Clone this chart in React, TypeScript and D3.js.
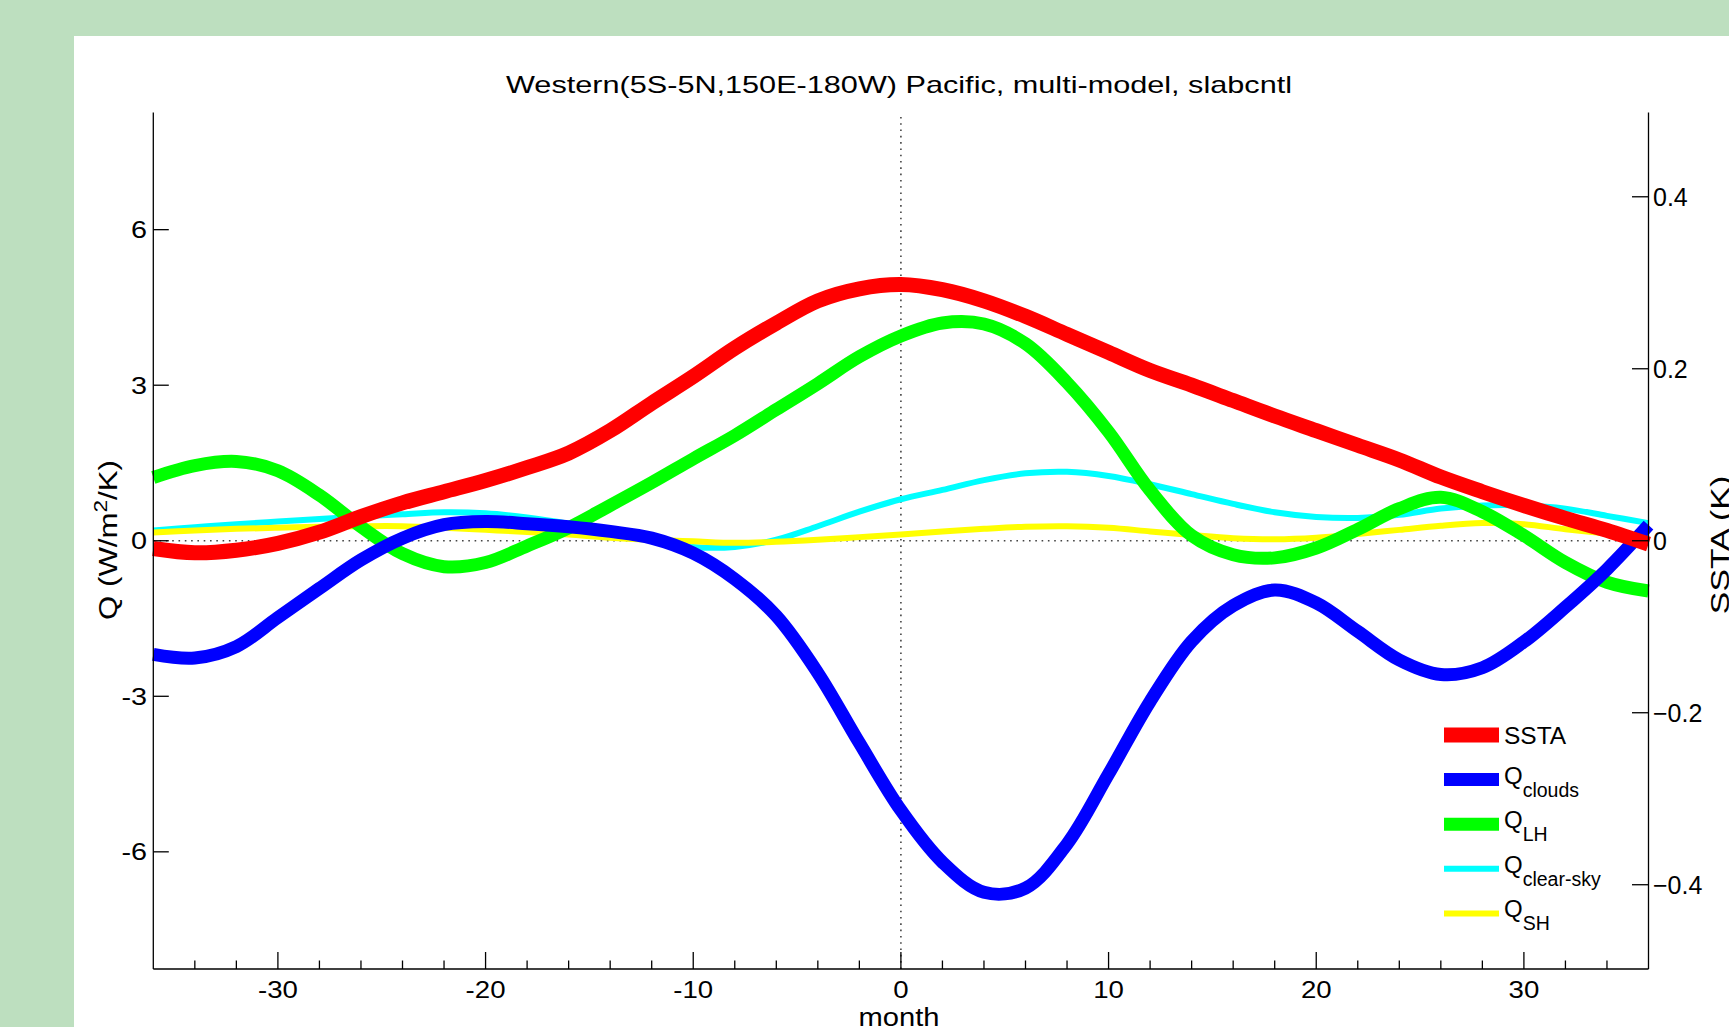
import React from 'react';
import * as d3 from 'd3';

// lag in months
const months = [-36, -34, -32, -30, -28, -26, -24, -22, -20, -18, -16, -14, -12, -10, -8, -6, -4, -2, 0,
  2, 4, 6, 8, 10, 12, 14, 16, 18, 20, 22, 24, 26, 28, 30, 32, 34, 36];

// SSTA (K), right axis
const ssta = [-0.009, -0.014, -0.011, -0.003, 0.010, 0.028, 0.044, 0.057, 0.070, 0.085, 0.102, 0.128, 0.160, 0.191,
  0.224, 0.253, 0.279, 0.293, 0.298, 0.292, 0.279, 0.261, 0.240, 0.219, 0.198, 0.181, 0.163, 0.145, 0.128,
  0.111, 0.094, 0.074, 0.057, 0.041, 0.026, 0.012, -0.004];

// Q terms (W/m^2/K), left axis
const qClouds = [-2.19, -2.26, -2.04, -1.48, -0.92, -0.37, 0.05, 0.31, 0.37, 0.33, 0.27, 0.18, 0.05, -0.24,
  -0.74, -1.45, -2.55, -3.90, -5.20, -6.20, -6.78, -6.70, -5.85, -4.50, -3.10, -1.94, -1.25, -0.95, -1.20,
  -1.75, -2.30, -2.58, -2.45, -1.95, -1.28, -0.55, 0.30];
const qLH = [1.22, 1.45, 1.53, 1.35, 0.88, 0.27, -0.25, -0.50, -0.42, -0.10, 0.25, 0.68, 1.12, 1.58, 2.03,
  2.53, 3.03, 3.55, 3.95, 4.20, 4.18, 3.80, 3.05, 2.10, 0.97, 0.10, -0.27, -0.33, -0.14, 0.22, 0.62, 0.84,
  0.56, 0.10, -0.42, -0.80, -0.97];
const qClearSky = [0.20, 0.26, 0.32, 0.37, 0.42, 0.47, 0.51, 0.55, 0.53, 0.45, 0.33, 0.18, 0.02, -0.12, -0.12,
  0.02, 0.28, 0.56, 0.80, 0.98, 1.17, 1.30, 1.33, 1.25, 1.09, 0.90, 0.71, 0.55, 0.46, 0.44, 0.50, 0.62, 0.68,
  0.68, 0.62, 0.48, 0.34];
const qSH = [0.16, 0.20, 0.23, 0.25, 0.27, 0.28, 0.28, 0.25, 0.21, 0.17, 0.12, 0.06, 0.02, -0.01, -0.04, -0.02,
  0.02, 0.07, 0.12, 0.18, 0.23, 0.27, 0.28, 0.25, 0.18, 0.11, 0.05, 0.03, 0.06, 0.13, 0.21, 0.29, 0.34, 0.32,
  0.22, 0.14, 0.08];

const monthTicks = [-30, -20, -10, 0, 10, 20, 30];
const qTicks = [-6, -3, 0, 3, 6];
const sstaTicks = [-0.4, -0.2, 0, 0.2, 0.4];

const FONT = '"Liberation Sans", Arial, Helvetica, sans-serif';
const W = 1729;
const H = 1027;
const left = 153.3, right = 1648.5, top = 112.5, bottom = 969;

type Series = { key: string; label: string; sub?: string; values: number[]; axis: 'q' | 's'; color: string; width: number };

const series: Series[] = [
  { key: 'ssta', label: 'SSTA', values: ssta, axis: 's', color: '#ff0000', width: 15 },
  { key: 'clouds', label: 'Q', sub: 'clouds', values: qClouds, axis: 'q', color: '#0000ff', width: 13 },
  { key: 'lh', label: 'Q', sub: 'LH', values: qLH, axis: 'q', color: '#00ff00', width: 13 },
  { key: 'clear', label: 'Q', sub: 'clear-sky', values: qClearSky, axis: 'q', color: '#00ffff', width: 6 },
  { key: 'sh', label: 'Q', sub: 'SH', values: qSH, axis: 'q', color: '#ffff00', width: 6 },
];
// bottom to top
const drawOrder = ['clear', 'sh', 'lh', 'clouds', 'ssta'];

export default function App() {
  const x = d3.scaleLinear().domain([-36, 36]).range([left, right]);
  const yQ = d3.scaleLinear().domain([-8.26, 8.26]).range([bottom, top]);
  const yS = d3.scaleLinear().domain([-0.498, 0.498]).range([bottom, top]);
  const minorTicks = d3.range(-34, 35, 2).filter(m => m % 10 !== 0);

  const path = (s: Series) => {
    const y = s.axis === 'q' ? yQ : yS;
    return d3.line<number>()
      .x((_, i) => x(months[i]))
      .y(d => y(d))
      .curve(d3.curveCatmullRom.alpha(0.5))(s.values) || '';
  };

  const legX = 1444, legY = 735, legStep = 44.6;

  return (
    <div style={{ position: 'fixed', left: 0, top: 0 }}>
      <svg width={W} height={H} style={{ display: 'block' }} fontFamily={FONT}>
        <rect x={0} y={0} width={W} height={H} fill="#bddfbf" />
        <rect x={74} y={36} width={W - 74} height={H - 36} fill="#ffffff" />

        <text x={899} y={93} fontSize={24} textAnchor="middle" textLength={786} lengthAdjust="spacingAndGlyphs">
          Western(5S-5N,150E-180W) Pacific, multi-model, slabcntl
        </text>

        {/* zero reference lines */}
        <line x1={left} x2={right} y1={yQ(0)} y2={yQ(0)} stroke="#444" strokeWidth={1.6} strokeDasharray="1.6,4.7" />
        <line x1={x(0)} x2={x(0)} y1={bottom} y2={top} stroke="#444" strokeWidth={1.6} strokeDasharray="1.6,4.7" />

        {drawOrder.map(k => {
          const s = series.find(d => d.key === k)!;
          return <path key={k} d={path(s)} fill="none" stroke={s.color} strokeWidth={s.width}
            strokeLinejoin="round" strokeLinecap="butt" />;
        })}

        {/* axes */}
        <g stroke="#000" strokeWidth={1.3} fill="none">
          <line x1={left} x2={left} y1={top} y2={bottom} />
          <line x1={right} x2={right} y1={top} y2={bottom} />
          <line x1={left} x2={right} y1={bottom} y2={bottom} />
          {monthTicks.map(m => <line key={'M' + m} x1={x(m)} x2={x(m)} y1={bottom} y2={bottom - 17} />)}
          {minorTicks.map(m => <line key={'m' + m} x1={x(m)} x2={x(m)} y1={bottom} y2={bottom - 8.5} />)}
          {qTicks.map(v => <line key={'q' + v} x1={left} x2={left + 15.5} y1={yQ(v)} y2={yQ(v)} />)}
          {sstaTicks.map(v => <line key={'s' + v} x1={right} x2={right - 16.5} y1={yS(v)} y2={yS(v)} />)}
        </g>

        <g fontSize={24} fill="#000">
          {monthTicks.map(m => (
            <text key={m} transform={`translate(${x(m)},998) scale(1.15,1)`} textAnchor="middle">{m}</text>
          ))}
          {qTicks.map(v => (
            <text key={v} transform={`translate(147,${yQ(v) + 8.5}) scale(1.2,1)`} textAnchor="end">{v}</text>
          ))}
        </g>
        <g fontSize={25} fill="#000">
          {sstaTicks.map(v => (
            <text key={v} x={1653} y={yS(v) + 9} textAnchor="start">{v === 0 ? '0' : d3.format('.1f')(v)}</text>
          ))}
        </g>

        <text transform={`translate(117,540) rotate(-90) scale(1.25,1)`} fontSize={25} textAnchor="middle">
          Q (W/m<tspan fontSize={18} dy={-10}>2</tspan><tspan dy={10}>/K)</tspan>
        </text>
        <text transform={`translate(1729,545) rotate(-90) scale(1.3,1)`} fontSize={26} textAnchor="middle">
          SSTA (K)
        </text>
        <text x={899} y={1026} fontSize={26} textAnchor="middle" textLength={81} lengthAdjust="spacingAndGlyphs">
          month
        </text>

        {/* legend */}
        {series.map((s, i) => {
          const ly = legY + i * legStep;
          return (
            <g key={s.key}>
              <line x1={legX} x2={legX + 55} y1={ly} y2={ly} stroke={s.color} strokeWidth={s.width} />
              {s.sub ? (
                <text x={1504} y={ly + 4} fontSize={24}>
                  {s.label}
                  <tspan fontSize={19.5} dy={13}>{s.sub}</tspan>
                </text>
              ) : (
                <text x={1504} y={ly + 9.3} fontSize={24.5}>{s.label}</text>
              )}
            </g>
          );
        })}
      </svg>
    </div>
  );
}
